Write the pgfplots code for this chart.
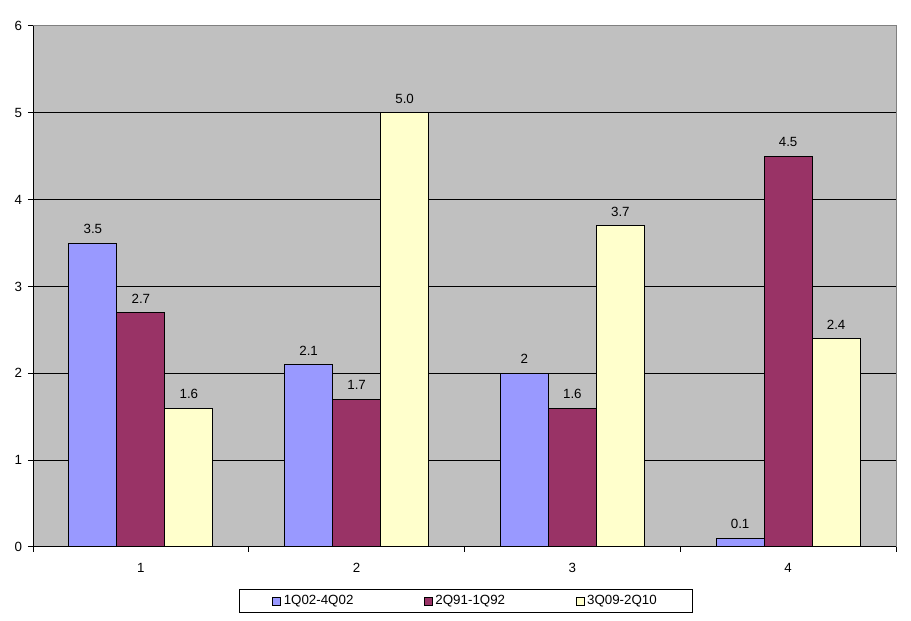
\documentclass[border=0pt]{standalone}
\usepackage{pgfplots}
\pgfplotsset{compat=1.18}
\usepackage{pgfplotstable}
\usepackage{fontspec}
\setmainfont{Liberation Sans}
\definecolor{cA}{HTML}{9999FF}
\definecolor{cB}{HTML}{993366}
\definecolor{cC}{HTML}{FFFFCC}
\definecolor{bg}{HTML}{C0C0C0}
\definecolor{brd}{HTML}{808080}
\pgfplotsset{ybar legend/.style={/pgfplots/legend image code/.code={\draw[##1,draw=black,line width=0.5pt] (0pt,-3pt) rectangle (6pt,3pt);}}}
\pgfplotstableread{
x y l
1 3.5 3.5
2 2.1 2.1
3 2 2
4 0.1 0.1
}\dA
\pgfplotstableread{
x y l
1 2.7 2.7
2 1.7 1.7
3 1.6 1.6
4 4.5 4.5
}\dB
\pgfplotstableread{
x y l
1 1.6 1.6
2 5.0 5.0
3 3.7 3.7
4 2.4 2.4
}\dC
\begin{document}
\begin{tikzpicture}
\path[use as bounding box] (-24.75pt,-55.5pt) rectangle (658.5pt,410.25pt);
\begin{axis}[
  at={(0pt,0pt)}, anchor=south west,
  scale only axis, width=647.25pt, height=390.75pt,
  xmin=0.5, xmax=4.5, ymin=0, ymax=6,
  ybar=0pt, bar width=0.2225,
  clip=false,
  xtick={1,2,3,4},
  minor xtick={0.5,1.5,2.5,3.5,4.5},
  ytick={0,1,2,3,4,5,6},
  xtick pos=bottom, ytick pos=left,
  tick align=outside,
  major tick length=3.75pt, minor tick length=3.75pt,
  major x tick style={draw=none},
  minor x tick style={black, line width=0.75pt},
  major y tick style={black, line width=0.75pt},
  ymajorgrids, grid style={black, line width=0.75pt},
  axis background/.style={fill=bg},
  axis line style={draw=brd, line width=0.75pt},
  tick label style={font=\fontsize{10}{12}\selectfont, black},
  xticklabel style={yshift=-5pt},
  yticklabel style={xshift=-1pt},
  /pgf/number format/assume math mode=true,
  point meta=explicit symbolic,
  nodes near coords,
  every node near coord/.append style={font=\fontsize{10}{12}\selectfont, black, anchor=center, yshift=10.5pt},
  legend columns=3,
  legend style={at={(axis description cs:0.5017,-0.0806)}, anchor=north,
    draw=black, line width=0.75pt, font=\fontsize{10}{12}\selectfont,
    inner xsep=25pt, inner ysep=2.5pt,
    /tikz/every even column/.append style={column sep=51pt}},
]
\addplot[fill=cA, draw=black, line width=0.75pt] table[x=x,y=y,meta=l]{\dA};
\addplot[fill=cB, draw=black, line width=0.75pt] table[x=x,y=y,meta=l]{\dB};
\addplot[fill=cC, draw=black, line width=0.75pt] table[x=x,y=y,meta=l]{\dC};
\draw[black, line width=0.75pt] (rel axis cs:0,1) -- (rel axis cs:0,0) -- (rel axis cs:1,0);
\legend{1Q02-4Q02,2Q91-1Q92,3Q09-2Q10}
\end{axis}
\end{tikzpicture}
\end{document}
